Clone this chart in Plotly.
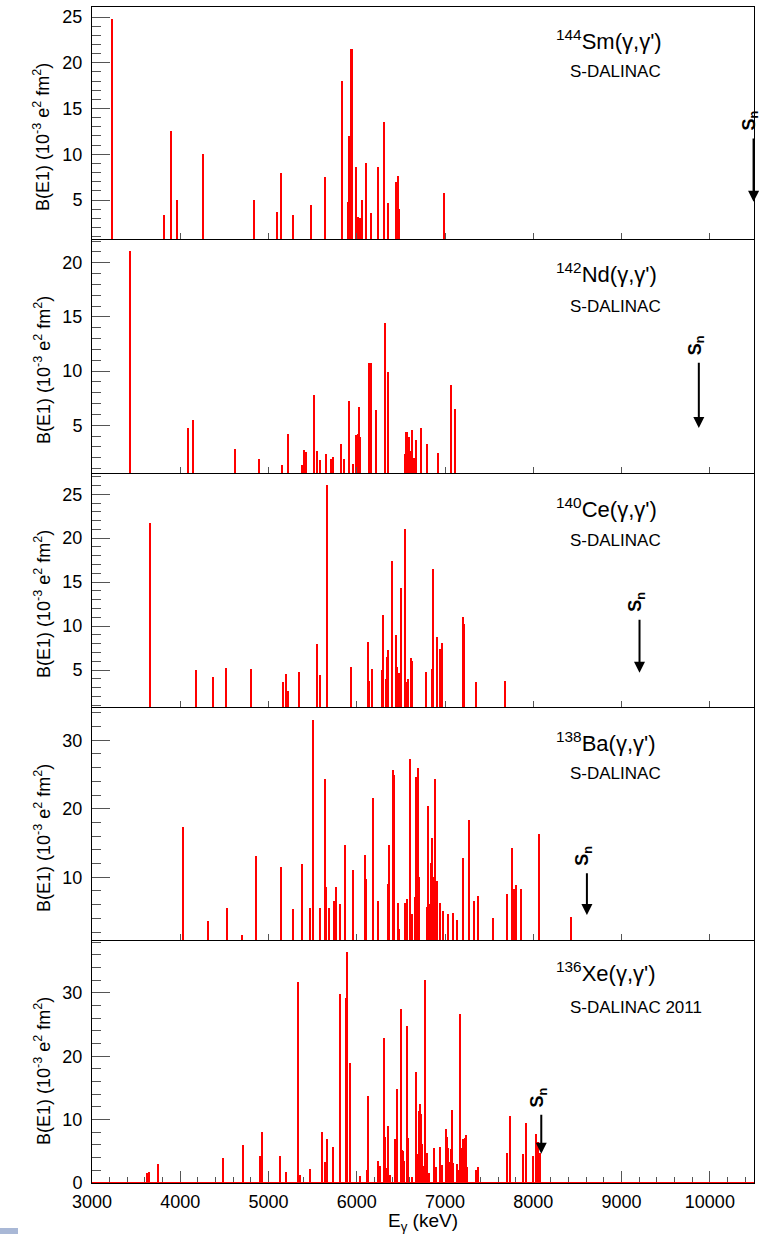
import plotly.graph_objects as go

# ---------------- data ----------------
E_SM = [3226, 3815, 3891, 3962, 4264, 4834, 5098, 5144, 5280, 5480, 5642, 5838, 5903, 5910, 5917, 5936,
        5944, 5989, 6012, 6042, 6064, 6106, 6166, 6238, 6246, 6314, 6359, 6446, 6468, 6480, 6985]
B_SM = [24.8, 3.4, 12.6, 5.0, 10.0, 5.0, 3.7, 8.0, 3.4, 4.5, 7.5, 18.0, 4.8, 4.9, 12.0, 21.5,
        21.5, 8.6, 3.1, 3.0, 5.0, 9.0, 3.6, 8.6, 5.9, 13.5, 4.7, 7.0, 7.6, 4.0, 5.8]

E_ND = [3427, 4094, 4144, 4623, 4898, 5159, 5223, 5381, 5408, 5431, 5521, 5548, 5582, 5653, 5714, 5729,
        5819, 5857, 5910, 5955, 5989, 6015, 6031, 6042, 6140, 6167, 6223, 6317, 6359, 6548, 6555, 6566,
        6585, 6593, 6608, 6623, 6650, 6676, 6725, 6801, 6925, 7065, 7110]
B_ND = [21.1, 4.7, 5.5, 2.8, 1.9, 1.3, 4.2, 1.3, 2.7, 2.5, 7.8, 2.6, 1.8, 2.35, 1.9, 2.1,
        3.3, 1.9, 7.2, 1.4, 4.1, 4.2, 6.7, 3.95, 10.7, 10.7, 6.4, 14.4, 9.9, 2.35, 4.35, 4.35,
        3.95, 3.9, 2.6, 4.6, 2.0, 3.6, 4.75, 3.3, 2.4, 8.7, 6.5]

E_CE = [3653, 4185, 4370, 4525, 4800, 5163, 5197, 5223, 5344, 5555, 5581, 5668, 5936, 6125, 6136, 6170,
        6283, 6302, 6336, 6348, 6359, 6404, 6446, 6457, 6483, 6502, 6544, 6555, 6582, 6612, 6623, 6789,
        6850, 6868, 6914, 6940, 6966, 7208, 7219, 7348, 7683]
B_CE = [21.7, 5.0, 4.2, 5.2, 5.15, 3.65, 4.6, 2.65, 4.8, 7.95, 4.4, 26.0, 5.3, 8.2, 3.75, 5.1,
        5.0, 11.3, 4.0, 6.5, 7.3, 17.4, 9.0, 5.3, 4.7, 14.3, 21.1, 3.7, 4.0, 6.4, 6.0, 4.8,
        5.1, 16.5, 8.75, 7.4, 8.1, 11.0, 10.2, 3.7, 3.75]

E_BA = [4027, 4321, 4536, 4706, 4857, 5140, 5283, 5385, 5476, 5510, 5581, 5642, 5653, 5691, 5740, 5751,
        5763, 5808, 5872, 5963, 6098, 6110, 6189, 6238, 6351, 6363, 6408, 6427, 6465, 6484, 6548, 6567,
        6608, 6631, 6657, 6676, 6691, 6702, 6801, 6812, 6827, 6842, 6857, 6868, 6891, 6914, 6948, 6978,
        7038, 7095, 7136, 7204, 7272, 7329, 7370, 7540, 7698, 7762, 7785, 7807, 7860, 8068, 8427]
B_BA = [17.3, 3.6, 5.5, 1.6, 13.05, 11.45, 5.35, 12.0, 5.45, 33.0, 5.45, 24.4, 8.6, 5.45, 6.55, 3.4,
        8.55, 6.1, 14.7, 11.1, 13.2, 9.7, 21.5, 6.55, 9.0, 14.65, 25.7, 24.9, 6.3, 2.5, 6.3, 6.8,
        27.3, 4.6, 7.1, 24.7, 26.0, 10.1, 5.7, 20.4, 6.1, 12.1, 15.7, 10.1, 24.4, 9.5, 6.2, 5.1,
        4.6, 4.8, 3.7, 12.8, 18.4, 6.5, 7.3, 4.0, 7.5, 14.2, 8.3, 8.8, 8.3, 16.25, 4.2]

E_XE = [3630, 3642, 3747, 4483, 4717, 4902, 4932, 5136, 5196, 5332, 5359, 5468, 5612, 5646, 5661, 5736,
        5808, 5880, 5887, 5895, 5921, 6034, 6114, 6125, 6133, 6238, 6265, 6306, 6317, 6329, 6360, 6377,
        6438, 6457, 6498, 6510, 6525, 6540, 6570, 6585, 6623, 6672, 6694, 6706, 6717, 6728, 6740, 6755,
        6778, 6800, 6819, 6876, 6902, 6947, 6970, 7015, 7027, 7038, 7061, 7072, 7083, 7094, 7132, 7147,
        7170, 7193, 7208, 7223, 7238, 7253, 7351, 7378, 7698, 7732, 7887, 7913, 7993, 8030, 8053, 8076]
B_XE = [1.6, 1.7, 3.0, 4.0, 6.0, 4.3, 8.0, 4.2, 1.7, 31.7, 1.2, 2.2, 8.0, 3.3, 7.0, 5.75,
        29.8, 29.2, 29.2, 36.4, 18.9, 1.1, 2.1, 8.3, 13.7, 3.5, 2.7, 22.85, 7.2, 2.3, 8.95, 1.2,
        6.9, 14.8, 27.5, 5.2, 5.0, 3.5, 24.75, 7.1, 0.9, 17.5, 4.5, 11.3, 12.4, 10.9, 6.1, 2.7,
        32.0, 4.75, 1.6, 5.5, 2.6, 5.65, 2.85, 8.5, 7.3, 5.6, 3.3, 5.3, 11.6, 3.1, 3.0, 2.1,
        26.7, 5.5, 6.9, 7.1, 7.5, 2.6, 2.1, 2.6, 4.8, 10.5, 4.6, 9.5, 4.2, 7.7, 6.4, 4.75]

ENERGIES = [E_SM, E_ND, E_CE, E_BA, E_XE]
STRENGTHS = [B_SM, B_ND, B_CE, B_BA, B_XE]
NUCLEI = ["<sup>144</sup>Sm(γ,γ')", "<sup>142</sup>Nd(γ,γ')", "<sup>140</sup>Ce(γ,γ')",
          "<sup>138</sup>Ba(γ,γ')", "<sup>136</sup>Xe(γ,γ')"]
FACILITY = ["S-DALINAC", "S-DALINAC", "S-DALINAC", "S-DALINAC", "S-DALINAC 2011"]
SN = [10495, 9875, 9203, 8607, 8090]          # neutron separation energies (arrow positions)
SN_ARROW_TOP = [11.9, 10.9, 10.9, 10.8, 11.0]
SN_ARROW_TIP = [4.8, 4.75, 4.7, 4.5, 4.6]
Y_RANGES = [(0.74, 26.1), (0.59, 22.1), (0.8, 27.3), (0.84, 34.7), (0.0, 38.2)]
Y_DTICK = [5, 5, 5, 10, 10]
Y_MINOR = [1, 1, 1, 2, 2]
X_MIN, X_MAX = 3000, 10500

# ---------------- layout geometry ----------------
W, H = 759, 1235
ML, MR, MT, MB = 92, 5, 7, 52
PH = H - MT - MB
PW = W - ML - MR
PANELS = [(7, 239), (240, 473), (474, 707), (708, 940), (941, 1183)]
TITLE_Y = [40, 273, 508, 742, 972]
SUB_Y = [72, 306, 540, 773, 1007]


def fy(py):
    return (H - MB - py) / PH


def fx(px):
    return (px - ML) / PW


FONT = "Liberation Sans, Arial, Helvetica, sans-serif"
RED = "#ff0000"
TICKC = "#555555"

fig = go.Figure()
layout = dict(
    width=W, height=H, margin=dict(l=ML, r=MR, t=MT, b=MB),
    paper_bgcolor="white", plot_bgcolor="white", showlegend=False,
    font=dict(family=FONT, size=18, color="black"),
    bargap=0,
)
annotations = []

for i in range(5):
    k = i + 1
    xa = "x" if k == 1 else f"x{k}"
    ya = "y" if k == 1 else f"y{k}"
    fig.add_trace(go.Bar(x=ENERGIES[i], y=STRENGTHS[i], width=14, marker=dict(color=RED, line=dict(width=0)),
                         xaxis=xa, yaxis=ya, hoverinfo="x+y"))
    last = (k == 5)
    top, bot = PANELS[i]
    layout["xaxis" if k == 1 else f"xaxis{k}"] = dict(
        domain=[0, 1], anchor=ya, range=[X_MIN, X_MAX],
        showline=True, linecolor="black", linewidth=1, mirror=True,
        showgrid=False, zeroline=False,
        ticks="inside", ticklen=12 if last else 6, tickcolor=TICKC, tickwidth=1,
        dtick=1000, tick0=0, showticklabels=last, tickformat="d",
        tickfont=dict(size=18, family=FONT), ticklabelstandoff=2,
        minor=dict(ticks="inside", dtick=200, ticklen=6, tickcolor=TICKC) if last else None,
        layer="below traces" if last else "above traces",
    )
    layout["yaxis" if k == 1 else f"yaxis{k}"] = dict(
        domain=[fy(bot), fy(top)], anchor=xa, range=list(Y_RANGES[i]),
        showline=True, linecolor="black", linewidth=1, mirror=True,
        showgrid=False, zeroline=False,
        ticks="inside", ticklen=18, tickcolor=TICKC, tickwidth=1,
        dtick=Y_DTICK[i], tick0=0,
        minor=dict(ticks="inside", dtick=Y_MINOR[i], ticklen=9, tickcolor=TICKC),
        tickfont=dict(size=18, family=FONT), ticklabelstandoff=5,
    )
    # y-axis title
    annotations.append(dict(
        text="B(E1) (10<sup>-3</sup> e<sup>2</sup> fm<sup>2</sup>)", xref="paper", yref="paper",
        x=fx(42), y=fy(top + 130), textangle=-90, showarrow=False,
        xanchor="center", yanchor="middle", font=dict(size=18, family=FONT)))
    # reaction label
    annotations.append(dict(
        text=NUCLEI[i], xref="paper", yref="paper", x=fx(554), y=fy(TITLE_Y[i]),
        xanchor="left", yanchor="middle", showarrow=False, font=dict(size=22, family=FONT)))
    annotations.append(dict(
        text=FACILITY[i], xref="paper", yref="paper", x=fx(568), y=fy(SUB_Y[i]),
        xanchor="left", yanchor="middle", showarrow=False, font=dict(size=17, family=FONT)))
    # S_n arrow
    annotations.append(dict(
        x=SN[i], y=SN_ARROW_TIP[i], ax=SN[i], ay=SN_ARROW_TOP[i], xref=xa, yref=ya,
        axref=xa, ayref=ya, showarrow=True, arrowhead=2, arrowsize=1.1, arrowwidth=2,
        arrowcolor="black", text=""))
    annotations.append(dict(
        x=SN[i], y=SN_ARROW_TOP[i], xref=xa, yref=ya, text="<b>S<sub>n</sub></b>",
        textangle=-90, showarrow=False, xanchor="center", yanchor="middle",
        xshift=-3, yshift=16, font=dict(size=18, family=FONT)))

# red histogram baseline in the bottom panel
fig.add_trace(go.Scatter(x=[X_MIN, X_MAX], y=[0, 0], mode="lines", line=dict(color=RED, width=2),
                         xaxis="x5", yaxis="y5", cliponaxis=False, hoverinfo="skip"))

annotations.append(dict(
    text="E<sub>γ</sub> (keV)", xref="paper", yref="paper", x=0.5, y=fy(1222),
    xanchor="center", yanchor="middle", showarrow=False, font=dict(size=19, family=FONT)))

layout["annotations"] = annotations
layout["shapes"] = [dict(type="rect", xref="paper", yref="paper", x0=fx(0), x1=fx(18),
                         y0=fy(1234), y1=fy(1228), fillcolor="#a9b8d6", line=dict(width=0))]
fig.update_layout(**layout)
fig.write_html("out.html")
